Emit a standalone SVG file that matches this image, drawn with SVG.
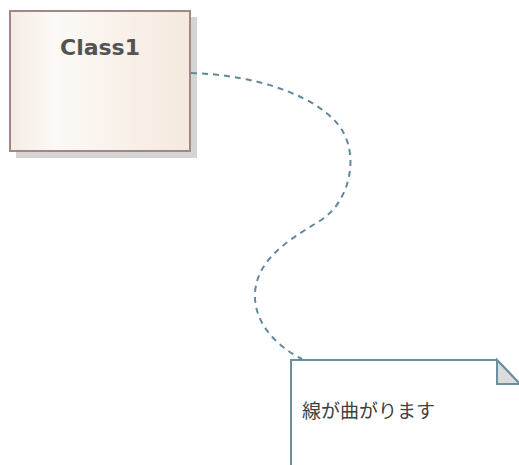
<svg xmlns="http://www.w3.org/2000/svg" width="519" height="465" viewBox="0 0 519 465">
<defs>
<linearGradient id="classFill" x1="0" y1="0" x2="1" y2="0">
<stop offset="0" stop-color="#f6ebe3"/>
<stop offset="0.25" stop-color="#fcf9f6"/>
<stop offset="1" stop-color="#f5e9de"/>
</linearGradient>
<style>
.shadow{fill:#d4d4d4;}
.cls{fill:url(#classFill);stroke:#a18787;stroke-width:2;}
.clsText{font-family:"DejaVu Sans",Verdana,sans-serif;font-weight:bold;font-size:22px;fill:#535353;}
.conn{fill:none;stroke:#62899a;stroke-width:2;stroke-dasharray:6,5;}
.note{fill:#ffffff;stroke:#6a8f9e;stroke-width:2;}
.fold{fill:#dcdcdc;stroke:#6a8f9e;stroke-width:2;stroke-linejoin:miter;}
.noteText{font-family:"Noto Sans CJK JP","Noto Sans CJK SC",sans-serif;font-size:19px;fill:#404040;}
</style>
</defs>
<g id="class1">
<rect class="shadow" x="16" y="17" width="181" height="141"/>
<rect class="cls" x="10" y="11" width="180" height="140"/>
<text class="clsText" x="100" y="55" text-anchor="middle">Class1</text>
</g>
<g id="note1">
<path class="note" d="M291,466 L291,360 L497,360 L520,384 L520,466"/>
<path class="fold" d="M497,360 L497,384 L520,384 Z"/>
<text class="noteText" x="302" y="418">線が曲がります</text>
</g>
<g id="connectors">
<path class="conn" d="M191,73 C260,75 322,98 342,130 C360,160 348,205 318,222 C285,242 258,260 255,292 C253,325 280,348 302,359"/>
</g>
</svg>
